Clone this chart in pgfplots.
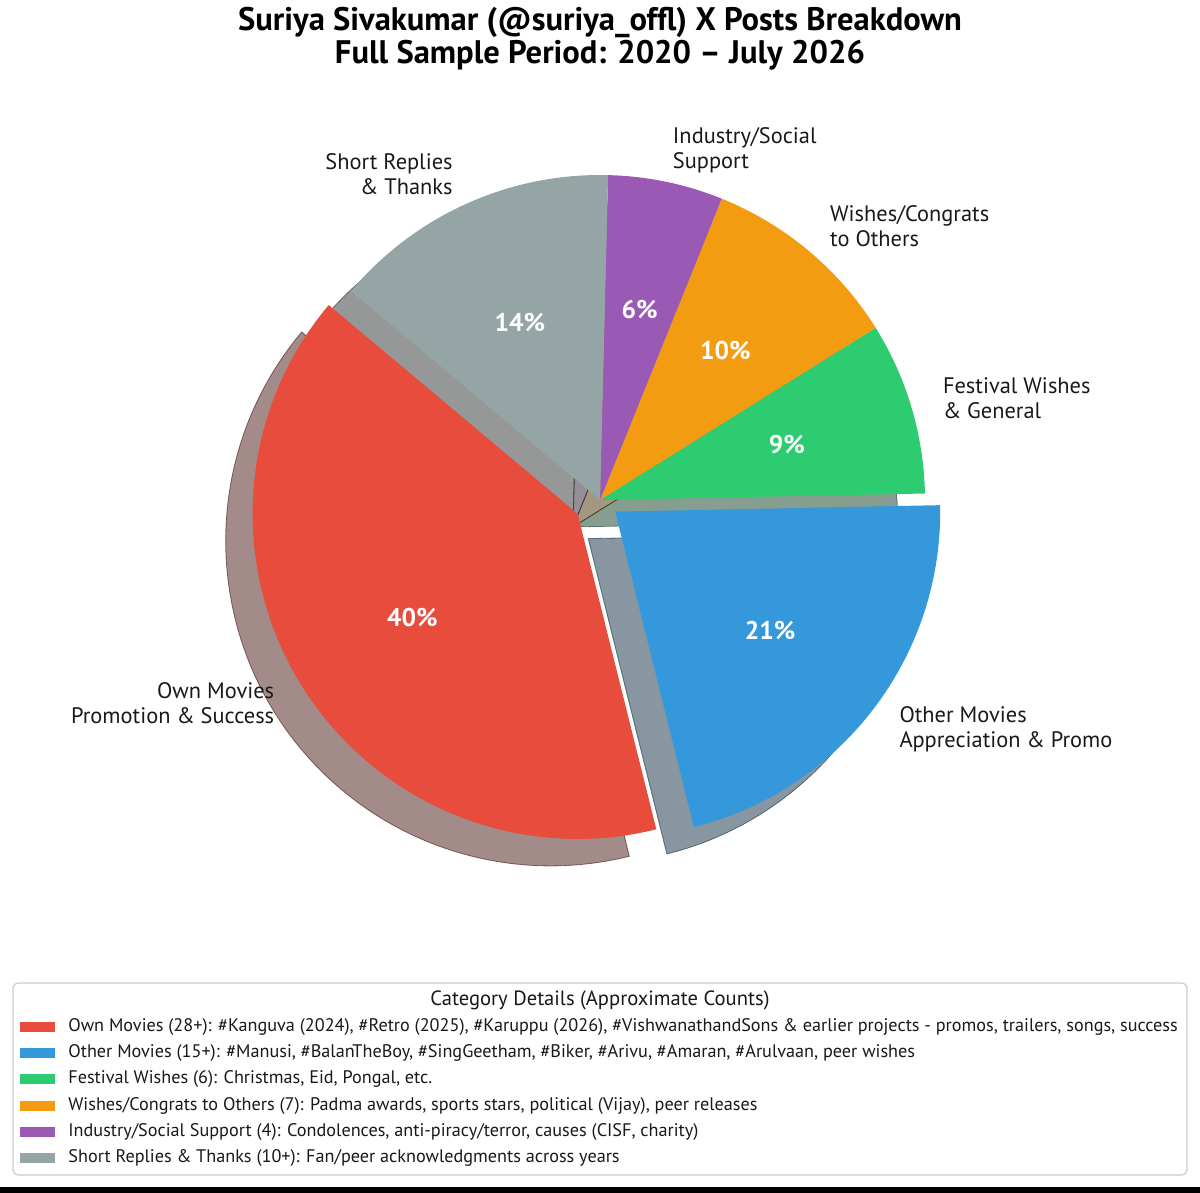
\documentclass[border=0pt]{standalone}
\usepackage{pgfplots}
\pgfplotsset{compat=1.18}
\usepackage{fontspec}
\setmainfont{PT Sans}
\definecolor{cRed}{HTML}{E74C3C}
\definecolor{cBlue}{HTML}{3498DB}
\definecolor{cGreen}{HTML}{2ECC71}
\definecolor{cOrange}{HTML}{F39C12}
\definecolor{cPurple}{HTML}{9B59B6}
\definecolor{cGray}{HTML}{95A5A6}
\def\R{162.5bp}
% approximate counts per category
\def\tot{70}
\def\nA{28}\def\nB{15}\def\nC{6}\def\nD{7}\def\nE{4}\def\nF{10}
\pgfmathsetmacro\aA{140}
\pgfmathsetmacro\aB{\aA+360*\nA/\tot}
\pgfmathsetmacro\aC{\aB+360*\nB/\tot}
\pgfmathsetmacro\aD{\aC+360*\nC/\tot}
\pgfmathsetmacro\aE{\aD+360*\nD/\tot}
\pgfmathsetmacro\aF{\aE+360*\nE/\tot}
\pgfmathsetmacro\aG{\aF+360*\nF/\tot}
\newcommand\lblfont{\fontsize{11.2bp}{12.5bp}\selectfont}
\newcommand\pctfont{\fontsize{12.8bp}{14bp}\selectfont\bfseries}
\newcommand\legfont{\fontsize{9.1bp}{10.5bp}\selectfont}
\newcommand\wedgeshadow[4]{%
  \pgfmathsetmacro\wm{(#1+#2)/2}%
  \pgfmathsetmacro\wx{#3*cos(\wm)-0.083}%
  \pgfmathsetmacro\wy{#3*sin(\wm)-0.083}%
  \path[fill=#4!30!black, fill opacity=0.5, draw=#4!30!black, draw opacity=0.6, line width=0.4bp]
    (axis cs:\wx,\wy) -- ++(#1:\R) arc[start angle=#1, end angle=#2, radius=\R] -- cycle;}
\newcommand\wedgefill[4]{%
  \pgfmathsetmacro\wm{(#1+#2)/2}%
  \pgfmathsetmacro\wx{#3*cos(\wm)}%
  \pgfmathsetmacro\wy{#3*sin(\wm)}%
  \fill[#4] (axis cs:\wx,\wy) -- ++(#1:\R) arc[start angle=#1, end angle=#2, radius=\R] -- cycle;}
\newcommand\wedgetext[6]{%
  \pgfmathsetmacro\wm{(#1+#2)/2}%
  \pgfmathsetmacro\wlx{(#3+1.1)*cos(\wm)}%
  \pgfmathsetmacro\wly{(#3+1.1)*sin(\wm)}%
  \pgfmathsetmacro\wpx{(#3+0.6)*cos(\wm)}%
  \pgfmathsetmacro\wpy{(#3+0.6)*sin(\wm)}%
  \node[#4, font=\lblfont, inner sep=0pt, text=black!90] at (axis cs:\wlx,\wly) {#5};
  \node[font=\pctfont, text=white, inner sep=0pt] at (axis cs:\wpx,\wpy) {#6};}
\newcommand\legrow[3]{%
  \fill[#2] (axis cs:-1.7846,{#1-0.0154}) rectangle (axis cs:-1.6769,{#1+0.0154});
  \node[anchor=west, inner sep=0pt, font=\legfont, text=black!90] at (axis cs:-1.6369,#1) {#3};}
\begin{document}
\begin{tikzpicture}
\begin{axis}[hide axis, scale only axis, x=162.5bp, y=162.5bp,
  xmin=-1.84615, xmax=1.84615, ymin=-2.13231, ymax=1.53846, clip=false]
\pgfplotsextra{
  % shadows
  \wedgeshadow{\aA}{\aB}{0.081}{cRed}
  \wedgeshadow{\aB}{\aC}{0.059}{cBlue}
  \wedgeshadow{\aC}{\aD}{0}{cGreen}
  \wedgeshadow{\aD}{\aE}{0}{cOrange}
  \wedgeshadow{\aE}{\aF}{0}{cPurple}
  \wedgeshadow{\aF}{\aG}{0}{cGray}
  % wedges
  \wedgefill{\aA}{\aB}{0.081}{cRed}
  \wedgefill{\aB}{\aC}{0.059}{cBlue}
  \wedgefill{\aC}{\aD}{0}{cGreen}
  \wedgefill{\aD}{\aE}{0}{cOrange}
  \wedgefill{\aE}{\aF}{0}{cPurple}
  \wedgefill{\aF}{\aG}{0}{cGray}
  % labels
  \wedgetext{\aA}{\aB}{0.081}{anchor=east,align=right}{Own Movies\\Promotion \& Success}{40\%}
  \wedgetext{\aB}{\aC}{0.059}{anchor=west,align=left}{Other Movies\\Appreciation \& Promo}{21\%}
  \wedgetext{\aC}{\aD}{0}{anchor=west,align=left}{Festival Wishes\\\& General}{9\%}
  \wedgetext{\aD}{\aE}{0}{anchor=west,align=left}{Wishes/Congrats\\to Others}{10\%}
  \wedgetext{\aE}{\aF}{0}{anchor=west,align=left}{Industry/Social\\Support}{6\%}
  \wedgetext{\aF}{\aG}{0}{anchor=east,align=right}{Short Replies\\\& Thanks}{14\%}
  % title
  \node[align=center, font=\fontsize{16.3bp}{16.5bp}\selectfont\bfseries, inner sep=0pt] at (axis cs:0,1.42)
    {Suriya Sivakumar (@suriya\_offl) X Posts Breakdown\\Full Sample Period: 2020 – July 2026};
  % legend
  \draw[rounded corners=2.5bp, draw=black!20, fill=white, line width=0.6bp]
    (axis cs:-1.8062,-1.4862) rectangle (axis cs:1.8062,-2.0769);
  \node[font=\fontsize{10.3bp}{12bp}\selectfont, inner sep=0pt, text=black!90] at (axis cs:0,-1.5385) {Category Details (Approximate Counts)};
  \legrow{-1.6206}{cRed}{Own Movies (28+): \#Kanguva (2024), \#Retro (2025), \#Karuppu (2026), \#VishwanathandSons \& earlier projects - promos, trailers, songs, success}
  \legrow{-1.7025}{cBlue}{Other Movies (15+): \#Manusi, \#BalanTheBoy, \#SingGeetham, \#Biker, \#Arivu, \#Amaran, \#Arulvaan, peer wishes}
  \legrow{-1.7825}{cGreen}{Festival Wishes (6): Christmas, Eid, Pongal, etc.}
  \legrow{-1.8637}{cOrange}{Wishes/Congrats to Others (7): Padma awards, sports stars, political (Vijay), peer releases}
  \legrow{-1.9437}{cPurple}{Industry/Social Support (4): Condolences, anti-piracy/terror, causes (CISF, charity)}
  \legrow{-2.0255}{cGray}{Short Replies \& Thanks (10+): Fan/peer acknowledgments across years}
  % bottom bar
  \fill[black] (axis cs:-1.84615,-2.1138) rectangle (axis cs:1.84615,-2.13231);
}
\end{axis}
\pgfresetboundingbox
\useasboundingbox (current axis.south west) rectangle (current axis.north east);
\end{tikzpicture}
\end{document}
